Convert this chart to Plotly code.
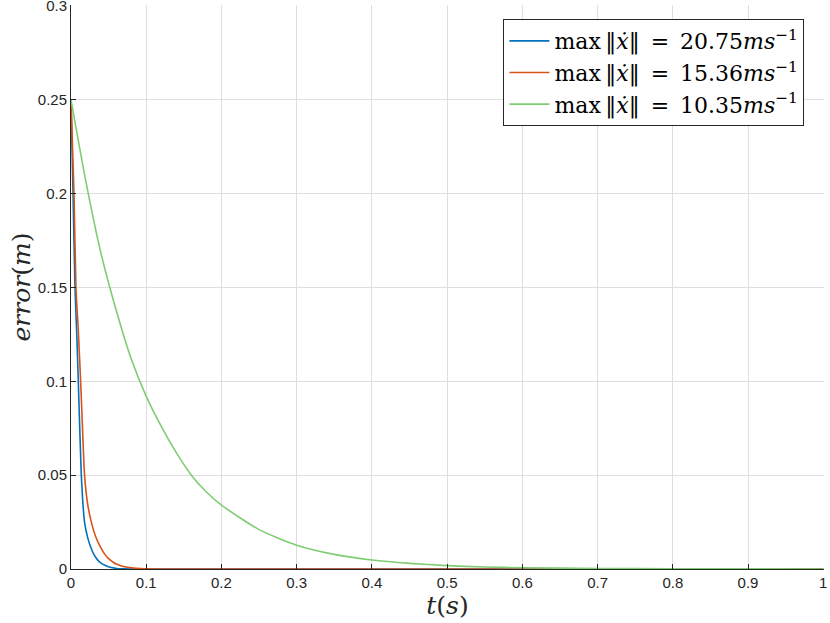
import plotly.graph_objects as go

# Blue: max ||xdot|| = 20.75 m/s
t_blue = [0, 0.0027, 0.0053, 0.0075, 0.0097, 0.0117, 0.0137, 0.0158, 0.018, 0.022, 0.026,
          0.030, 0.035, 0.040, 0.045, 0.052, 0.061, 0.07, 0.08, 0.1, 0.2, 0.4, 0.6, 0.8, 1.0]
e_blue = [0.25, 0.2, 0.15, 0.127, 0.1, 0.074, 0.05, 0.035, 0.025, 0.017, 0.0118,
          0.008, 0.005, 0.0031, 0.002, 0.0009, 0.0003, 0.0001, 0.0, 0.0, 0.0, 0.0, 0.0, 0.0, 0.0]

# Orange: max ||xdot|| = 15.36 m/s
t_orange = [0, 0.004, 0.0066, 0.0097, 0.0128, 0.0155, 0.018, 0.022, 0.027, 0.033, 0.039,
            0.045, 0.05, 0.056, 0.061, 0.068, 0.075, 0.083, 0.092, 0.11, 0.2, 0.4, 0.6, 0.8, 1.0]
e_orange = [0.25, 0.2, 0.15, 0.127, 0.1, 0.073, 0.05, 0.035, 0.025, 0.017, 0.0118,
            0.0078, 0.0055, 0.0036, 0.0025, 0.0015, 0.0009, 0.0005, 0.0002, 0.0, 0.0, 0.0, 0.0, 0.0, 0.0]

# Green: max ||xdot|| = 10.35 m/s
t_green = [0, 0.02, 0.04, 0.06, 0.08, 0.1, 0.12, 0.14, 0.16, 0.18, 0.2, 0.25, 0.3,
           0.35, 0.4, 0.45, 0.5, 0.55, 0.6, 0.7, 0.8, 0.9, 1.0]
e_green = [0.25, 0.206, 0.168, 0.138, 0.112, 0.092, 0.076, 0.062, 0.05, 0.041, 0.034, 0.021, 0.0127,
           0.0078, 0.0048, 0.003, 0.0018, 0.0011, 0.0007, 0.0003, 0.0001, 0.0001, 0.0]

x_ticks = [0, 0.1, 0.2, 0.3, 0.4, 0.5, 0.6, 0.7, 0.8, 0.9, 1]
x_tick_text = ["0", "0.1", "0.2", "0.3", "0.4", "0.5", "0.6", "0.7", "0.8", "0.9", "1"]
y_ticks = [0, 0.05, 0.1, 0.15, 0.2, 0.25, 0.3]
y_tick_text = ["0", "0.05", "0.1", "0.15", "0.2", "0.25", "0.3"]

labels = ["max\u2009‖<i>ẋ</i>‖\u2002=\u200220.75<i>ms</i><sup>−1</sup>",
          "max\u2009‖<i>ẋ</i>‖\u2002=\u200215.36<i>ms</i><sup>−1</sup>",
          "max\u2009‖<i>ẋ</i>‖\u2002=\u200210.35<i>ms</i><sup>−1</sup>"]
colors = ["#0072BD", "#D95319", "#7fcd72"]

fig = go.Figure()
for t, e, lab, c in zip([t_blue, t_orange, t_green], [e_blue, e_orange, e_green], labels, colors):
    fig.add_trace(go.Scatter(x=t, y=e, mode="lines", name=lab,
                             line=dict(color=c, width=1.6, shape="spline", smoothing=0.6)))

axis_common = dict(
    showgrid=True, gridcolor="#dedede", gridwidth=1,
    showline=True, linecolor="#262626", linewidth=1,
    ticks="inside", ticklen=5, tickcolor="#262626", tickwidth=1,
    zeroline=False, mirror=False, automargin=False, ticklabeloverflow="allow",
    tickfont=dict(family="Liberation Sans, Arial", size=15, color="#262626"),
)

fig.update_xaxes(range=[0, 1.001], tickmode="array", tickvals=x_ticks, ticktext=x_tick_text,
                 title=dict(text="<i>t</i>(<i>s</i>)", font=dict(family="DejaVu Serif", size=25, color="#262626"),
                            standoff=2),
                 **axis_common)
fig.update_yaxes(range=[0, 0.3005], tickmode="array", tickvals=y_ticks, ticktext=y_tick_text,
                 title=dict(text="<i>error</i>(<i>m</i>)", font=dict(family="DejaVu Serif", size=25, color="#262626"),
                            standoff=0),
                 **axis_common)

fig.update_layout(
    width=830, height=623,
    margin=dict(l=71, r=6, t=5, b=54, autoexpand=False),
    paper_bgcolor="white", plot_bgcolor="white",
    showlegend=True,
    legend=dict(x=0.974, y=0.975, xanchor="right", yanchor="top",
                bgcolor="white", bordercolor="#262626", borderwidth=1,
                font=dict(family="DejaVu Serif", size=22, color="#000000"),
                itemwidth=40, tracegroupgap=0),
)

fig.write_html("out.html", config={"displayModeBar": False},
               post_script="document.body.style.margin='0';document.body.style.overflow='hidden';")
